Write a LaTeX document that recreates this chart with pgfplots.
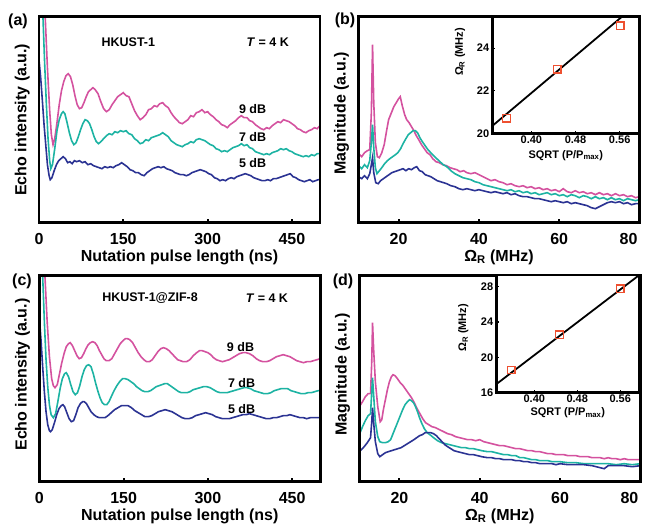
\documentclass[border=0pt]{standalone}
\usepackage{fontspec}
\setmainfont{Liberation Sans}
\usepackage{pgfplots}
\pgfplotsset{compat=1.18}
\definecolor{cmag}{HTML}{D4529F}
\definecolor{cteal}{HTML}{1DB3A3}
\definecolor{cblue}{HTML}{2B3393}
\definecolor{csq}{HTML}{EE5030}
\newcommand{\fL}{\fontsize{16}{19}\selectfont\bfseries}
\newcommand{\fM}{\fontsize{12.5}{15}\selectfont\bfseries}
\newcommand{\fS}{\fontsize{11}{13}\selectfont\bfseries}
\pgfplotsset{
 mainax/.style={scale only axis, width=281pt, height=206pt, ymin=0, ymax=206, ytick=\empty,
  axis on top, tick align=inside, xtick pos=left,
  major tick length=4pt, tick style={line width=2pt,black},
  /pgf/number format/assume math mode=true,
  xticklabel style={font=\fL, anchor=center, yshift=-16pt},
  every axis x label/.style={at={(axis description cs:0.5,0)},anchor=center,yshift=-34.5pt,font=\fL},
  every axis y label/.style={at={(axis description cs:-0.06,0.5)},anchor=center,rotate=90,font=\fL},
  after end axis/.code={\draw[line width=2.8pt] (rel axis cs:0,0) rectangle (rel axis cs:1,1);},
  anchor=south west, no markers, every axis plot/.append style={line width=1.6pt}},
 insetax/.style={scale only axis, anchor=south west, axis background/.style={fill=white},
  tick align=inside, xtick pos=left, ytick pos=left,
  major tick length=2.5pt, tick style={line width=1.2pt,black},
  /pgf/number format/assume math mode=true,
  ticklabel style={font=\fS}, xticklabel style={anchor=center,yshift=-6.5pt},
  after end axis/.code={\draw[line width=2.5pt] (rel axis cs:0,0) rectangle (rel axis cs:1,1);},
  xmin=0.33, xmax=0.595,
  xtick={0.40,0.48,0.56}, xticklabels={0.40,0.48,0.56}}
}
\begin{document}
\begin{tikzpicture}
\useasboundingbox (0,0) rectangle (648pt,526pt);
% (a)
\begin{axis}[mainax, at={(39pt,303.3pt)}, xmin=0, xmax=500, xtick={0,150,300,450},
  xlabel={Nutation pulse length (ns)}, ylabel={Echo intensity (a.u.)}]
\addplot[cmag] coordinates {(0,400)(6,290)(11,206)(15,155)(19,112)(22,88)(25,78)(28,84)(32,100)(36,118)(40,132)(44,141)(48,147)(52,149)(56,146)(60,138)(64,127)(68,118)(72,114)(76,115)(80,120)(84,126)(88,131)(92,133)(96,135)(100,133)(105,129)(110,121)(115,114)(120,111)(125,113)(130,118)(135,122)(140,126)(145,128)(150,130)(155,127)(160,126)(165,119)(170,112)(175,107)(180,103)(185,105)(190,108)(195,113)(200,114)(205,117)(210,116)(215,119)(220,120)(225,117)(230,115)(235,110)(240,106)(245,103)(250,100)(255,99)(260,101)(265,103)(270,107)(275,106)(280,110)(285,111)(290,113)(295,110)(300,111)(305,108)(310,106)(315,103)(320,101)(325,98)(330,97)(335,95)(340,98)(345,100)(350,102)(355,105)(360,107)(365,105)(370,105)(375,102)(380,101)(385,98)(390,96)(395,94)(400,93)(405,95)(410,94)(415,97)(420,99)(425,101)(430,100)(435,103)(440,102)(445,101)(450,99)(455,97)(460,94)(465,93)(470,91)(475,90)(480,92)(485,93)(490,95)(495,94)(500,97)};
\addplot[cteal] coordinates {(0,400)(4,280)(7,206)(10,160)(13,120)(16,85)(19,62)(21,54)(24,58)(28,74)(32,92)(36,103)(40,109)(43,111)(46,109)(50,100)(54,90)(58,82)(62,78)(66,80)(70,86)(74,93)(78,99)(82,103)(86,102)(90,99)(94,93)(98,86)(102,81)(106,79)(110,81)(115,84)(120,87)(125,89)(130,88)(135,91)(140,90)(145,92)(150,91)(155,92)(160,89)(165,88)(170,84)(175,82)(180,79)(185,80)(190,83)(195,82)(200,85)(205,86)(210,87)(215,88)(220,90)(225,88)(230,86)(235,82)(240,80)(245,78)(250,77)(255,76)(260,78)(265,79)(270,81)(275,80)(280,83)(285,84)(290,83)(295,82)(300,80)(305,78)(310,77)(315,74)(320,73)(325,71)(330,72)(335,71)(340,73)(345,75)(350,76)(355,77)(360,79)(365,77)(370,78)(375,75)(380,74)(385,71)(390,70)(395,69)(400,68)(405,69)(410,68)(415,70)(420,71)(425,72)(430,74)(435,73)(440,74)(445,72)(450,71)(455,69)(460,68)(465,67)(470,66)(475,67)(480,66)(485,68)(490,67)(495,69)(500,69)};
\addplot[cblue] coordinates {(0,163)(3,145)(6,122)(9,98)(12,78)(15,58)(18,47)(20,43)(23,45)(27,52)(31,58)(35,62)(39,64)(43,66)(47,64)(51,60)(55,61)(59,59)(63,62)(67,61)(72,62)(77,60)(82,61)(87,58)(92,59)(97,57)(102,56)(107,55)(112,54)(117,56)(122,55)(127,56)(132,55)(137,57)(142,58)(147,60)(152,58)(157,56)(162,53)(167,52)(172,50)(177,50)(182,48)(187,47)(192,50)(197,52)(202,54)(207,55)(212,56)(217,55)(222,56)(227,54)(232,53)(237,52)(242,50)(247,49)(252,48)(257,48)(262,47)(267,48)(272,50)(277,51)(282,52)(287,53)(292,52)(297,51)(302,49)(307,48)(312,45)(317,44)(322,42)(327,43)(332,42)(337,44)(342,45)(347,44)(352,46)(357,47)(362,48)(367,49)(372,48)(377,47)(382,45)(387,44)(392,43)(397,42)(402,42)(407,43)(412,42)(417,44)(422,44)(427,45)(432,46)(437,47)(442,48)(447,49)(452,46)(457,45)(462,43)(467,42)(472,41)(477,42)(482,43)(487,41)(492,42)(497,43)(500,43)};
\node[font=\fM] at (axis cs:159,180) {HKUST-1};
\node[font=\fM] at (axis cs:407,180) {\textit{T} = 4 K};
\node[font=\fM] at (axis cs:380,114) {9 dB};
\node[font=\fM] at (axis cs:380,86) {7 dB};
\node[font=\fM] at (axis cs:380,59.4) {5 dB};
\end{axis}
% (b)
\begin{axis}[mainax, at={(358.5pt,303.3pt)}, xmin=10, xmax=80, xtick={20,40,60,80},
  xticklabels={20,40,60,{\makebox[0pt][r]{80\hspace{2pt}}}},
  xlabel={Ω\textsubscript{R} (MHz)}, ylabel={Magnitude (a.u.)},
  every axis y label/.style={at={(axis description cs:-0.06,0.53)},anchor=center,rotate=90,font=\fL}]
\addplot[cmag] coordinates {(10,69)(10.8,66)(11.5,70)(12.2,72)(12.8,73)(13.2,110)(13.5,178)(13.8,120)(14.2,80)(14.7,66)(15.2,65)(15.8,70)(16.4,78)(17,92)(17.5,103)(18.2,110)(18.8,116)(19.4,120)(20,124)(20.4,126)(20.9,117)(21.5,108)(22,103)(22.6,100)(23.2,96)(23.8,92)(24.4,87)(25,83)(25.7,78)(26.4,74)(27.1,70)(27.8,68)(28.5,64)(29.3,61)(30.1,60)(31,58)(31.9,57)(32.8,55)(33.6,54)(34.5,53)(35.3,51)(36.2,52)(37,50)(38,49)(39,50)(40,48)(41,46)(42,44)(43,42)(44,43)(45,41)(46,40)(47,38)(48,39)(49,37)(50,36)(51,37)(52,35)(53,36)(54,34)(55,35)(56,33)(57,34)(58,32)(59,33)(60,31)(61,34)(62,31)(63,30)(64,32)(65,30)(66,31)(67,29)(68,30)(69,28)(70,30)(71,28)(72,29)(73,27)(74,29)(75,27)(76,28)(77,26)(78,27)(79,25)(80,26)};
\addplot[cteal] coordinates {(10,57)(10.8,54)(11.5,58)(12.2,55)(12.8,62)(13.2,80)(13.5,98)(13.8,75)(14.2,55)(14.6,49)(15.2,52)(15.8,55)(16.5,59)(17.2,62)(17.8,64)(18.5,66)(19.2,68)(19.8,70)(20.5,74)(21.1,79)(21.8,84)(22.4,88)(23,90)(23.6,92)(24.2,92)(24.7,90)(25.3,85)(25.9,81)(26.6,77)(27.3,73)(28,70)(28.7,67)(29.5,64)(30.3,61)(31.1,58)(32,56)(33,52)(34,49)(35,47)(36,45)(37,44)(38,43)(39,41)(40,40)(41,38)(42,37)(43,36)(44,35)(45,34)(46,33)(47,32)(48,33)(49,31)(50,32)(51,30)(52,31)(53,29)(54,30)(55,28)(56,29)(57,30)(58,28)(59,29)(60,27)(61,28)(62,26)(63,28)(64,27)(65,25)(66,27)(67,26)(68,24)(69,26)(70,24)(71,25)(72,23)(73,25)(74,23)(75,24)(76,22)(77,24)(78,23)(79,22)(80,23)};
\addplot[cblue] coordinates {(10,46)(10.8,44)(11.5,47)(12.2,44)(12.8,49)(13.2,58)(13.5,65)(13.8,50)(14.3,40)(14.9,39)(15.5,42)(16.2,44)(16.9,46)(17.6,48)(18.3,50)(19,51)(19.7,52)(20.4,53)(21.1,54)(21.8,52)(22.5,54)(23.2,53)(23.9,55)(24.5,56)(25.2,52)(25.9,51)(26.6,48)(27.3,47)(28,46)(28.8,44)(29.6,42)(30.4,41)(31.2,40)(32,39)(33,37)(34,36)(35,34)(36,33)(37,34)(38,33)(39,32)(40,33)(41,32)(42,31)(43,30)(44,31)(45,30)(46,29)(47,30)(48,28)(49,29)(50,27)(51,26)(52,26)(53,25)(54,24)(55,24)(56,23)(57,22)(58,21)(59,22)(60,21)(61,20)(62,21)(63,19)(64,20)(65,19)(66,18)(67,17)(68,15)(69,14)(70,16)(71,18)(72,20)(73,21)(74,20)(75,21)(76,19)(77,20)(78,18)(79,19)(80,19)};
\end{axis}
% (c)
\begin{axis}[mainax, at={(39.3pt,44.3pt)}, xmin=0, xmax=500, xtick={0,150,300,450},
  xlabel={Nutation pulse length (ns)}, ylabel={Echo intensity (a.u.)},
  every axis y label/.style={at={(axis description cs:-0.06,0.52)},anchor=center,rotate=90,font=\fL}]
\addplot[cmag] coordinates {(0,420)(5,300)(10,206)(14,160)(18,125)(22,103)(25,96)(28,94)(32,97)(36,108)(40,119)(44,128)(48,135)(52,138)(55,139)(59,136)(63,131)(67,126)(71,123)(75,124)(79,128)(83,133)(87,137)(91,139)(95,140)(99,139)(103,136)(107,131)(111,127)(115,123)(119,121)(124,121)(129,123)(134,128)(139,133)(144,138)(149,141)(153,143)(157,143)(161,142)(166,139)(171,134)(176,129)(181,125)(186,122)(191,120)(196,120)(201,122)(206,126)(211,130)(216,133)(221,134)(226,133)(231,131)(236,128)(241,125)(246,122)(251,121)(256,120)(262,120)(268,122)(274,126)(280,129)(285,131)(290,131)(295,130)(300,129)(305,127)(310,124)(315,122)(320,121)(326,120)(332,121)(338,122)(344,124)(350,126)(356,128)(362,129)(368,129)(374,128)(380,126)(386,123)(392,121)(398,120)(404,120)(410,121)(416,123)(422,125)(428,126)(434,127)(440,126)(446,125)(452,123)(458,121)(464,120)(470,119)(476,120)(482,120)(488,121)(494,122)(500,123)};
\addplot[cteal] coordinates {(0,360)(3,270)(6,206)(9,160)(12,122)(15,95)(18,77)(21,67)(25,64)(29,68)(33,80)(37,93)(41,103)(45,108)(48,109)(52,105)(56,97)(60,90)(64,87)(68,89)(72,96)(76,105)(80,112)(84,116)(88,117)(92,115)(96,108)(100,99)(104,91)(108,84)(112,79)(116,77)(120,77)(124,80)(128,85)(133,91)(138,96)(143,100)(148,103)(153,103)(158,102)(163,100)(168,98)(173,95)(178,93)(183,91)(188,90)(193,90)(198,91)(203,93)(208,95)(213,96)(218,97)(223,98)(228,98)(233,96)(238,94)(243,92)(248,90)(253,89)(258,89)(263,89)(268,90)(274,92)(280,93)(286,94)(292,95)(298,95)(304,94)(310,92)(316,90)(322,89)(328,89)(334,89)(340,90)(346,91)(352,92)(358,93)(364,94)(370,94)(376,93)(382,91)(388,90)(394,89)(400,88)(406,88)(412,89)(418,91)(424,92)(430,93)(436,93)(442,93)(448,91)(454,90)(460,89)(466,88)(472,88)(478,89)(484,89)(490,90)(496,91)(500,91)};
\addplot[cblue] coordinates {(0,165)(3,142)(6,115)(9,90)(12,70)(15,57)(18,51)(20,50)(23,52)(27,59)(31,67)(35,73)(39,76)(42,77)(45,75)(49,69)(53,63)(57,60)(61,61)(65,67)(69,74)(73,78)(77,80)(80,80)(84,78)(88,74)(92,70)(97,67)(102,65)(107,64)(112,64)(117,64)(122,66)(128,69)(134,72)(140,74)(146,76)(152,76)(158,76)(164,74)(170,71)(176,69)(182,67)(188,65)(194,65)(200,66)(206,68)(212,70)(218,71)(224,72)(230,71)(236,70)(242,68)(248,66)(254,64)(260,63)(266,63)(272,64)(278,66)(284,67)(290,68)(296,69)(302,68)(308,67)(314,65)(320,64)(326,63)(332,63)(338,63)(344,64)(350,65)(356,66)(362,67)(368,67)(374,68)(380,67)(386,66)(392,65)(398,64)(404,63)(410,63)(416,64)(422,64)(428,65)(434,66)(440,66)(446,67)(452,66)(458,65)(464,64)(470,64)(476,63)(482,64)(488,64)(494,64)(500,64)};
\node[font=\fM] at (axis cs:197,183.4) {HKUST-1@ZIF-8};
\node[font=\fM] at (axis cs:405,183.4) {\textit{T} = 4 K};
\node[font=\fM] at (axis cs:358,134.4) {9 dB};
\node[font=\fM] at (axis cs:360,99) {7 dB};
\node[font=\fM] at (axis cs:360,72.7) {5 dB};
\end{axis}
% (d)
\begin{axis}[mainax, at={(359.3pt,44.3pt)}, xmin=10, xmax=80, xtick={20,40,60,80},
  xticklabels={20,40,60,{\makebox[0pt][r]{80\hspace{2pt}}}},
  xlabel={Ω\textsubscript{R} (MHz)}, ylabel={Magnitude (a.u.)},
  every axis y label/.style={at={(axis description cs:-0.06,0.52)},anchor=center,rotate=90,font=\fL}]
\addplot[cmag] coordinates {(10,75)(10.8,80)(11.5,85)(12.2,88)(12.8,88)(13.1,120)(13.3,159)(13.6,130)(14,100)(14.6,75)(15.2,60)(15.6,62)(16,72)(16.5,82)(17,92)(17.5,100)(18,105)(18.4,107)(18.9,106)(19.5,103)(20.2,99)(20.9,96)(21.6,92)(22.3,88)(23,84)(23.7,79)(24.4,73)(25.1,68)(25.8,63)(26.5,59)(27.3,57)(28.1,55)(29,54)(30,52)(31,50)(32,48)(33,47)(34,45)(35,44)(36,43)(37,42)(38,42)(39,41)(40,42)(41,40)(42,39)(43,38)(44,37)(45,36)(46,36)(47,35)(48,34)(49,33)(50,33)(51,32)(52,31)(53,31)(54,30)(55,30)(56,29)(57,28)(58,28)(59,27)(60,27)(61,27)(62,26)(63,26)(64,26)(65,25)(66,25)(67,25)(68,24)(69,24)(70,24)(71,23)(72,24)(73,23)(74,23)(75,22)(76,23)(77,22)(78,22)(79,22)(80,22)};
\addplot[cteal] coordinates {(10,47)(10.8,55)(11.5,61)(12.2,66)(12.8,68)(13.1,90)(13.3,104)(13.6,85)(14,60)(14.6,45)(15.1,40)(15.8,39)(16.5,39)(17.2,40)(17.8,42)(18.4,48)(19,54)(19.6,60)(20.2,66)(20.8,72)(21.4,77)(22,80)(22.5,82)(23,81)(23.5,79)(24,75)(24.5,70)(25,64)(25.6,58)(26.2,53)(26.9,49)(27.6,47)(28.5,44)(29.5,41)(30.5,39)(31.5,38)(32.5,37)(33.5,36)(34.5,35)(35.5,34)(36.5,34)(37.5,33)(38.5,33)(39.5,32)(40.5,31)(42,30)(43,30)(44,29)(45,28)(46,27)(47,27)(48,26)(49,26)(50,24)(51,24)(52,23)(53,22)(54,22)(55,21)(56,21)(57,21)(58,20)(59,20)(60,20)(62,19)(64,19)(66,18)(68,18)(70,18)(72,18)(74,17)(76,18)(78,17)(80,18)};
\addplot[cblue] coordinates {(10,30)(11,34)(12,39)(12.8,44)(13.1,60)(13.3,74)(13.6,58)(14,40)(14.6,28)(15.1,25)(15.8,27)(16.5,29)(17.2,30)(18,31)(18.8,32)(19.6,33)(20.4,34)(21.2,36)(22,38)(22.8,40)(23.6,42)(24.3,44)(25,46)(25.7,47)(26.4,49)(27.1,49)(27.8,49)(28.5,48)(29.2,46)(29.9,43)(30.6,40)(31.3,37)(32,35)(32.8,33)(33.6,31)(34.5,30)(35.5,29)(36.5,28)(37.5,27)(38.5,27)(39.5,26)(40.5,25)(42,24)(43,24)(44,23)(45,23)(46,22)(47,22)(48,22)(49,21)(50,21)(51,20)(52,20)(53,19)(54,19)(55,18)(56,18)(57,18)(58,18)(59,17)(60,18)(62,17)(64,17)(66,17)(68,16)(70,14)(71,13)(72,16)(74,16)(76,16)(78,15)(80,16)};
\end{axis}
% inset (b)
\begin{axis}[insetax, at={(492.7pt,392.5pt)}, width=146.3pt, height=116.5pt,
  ymin=20, ymax=25.46, ytick={20,22,24},
  xlabel={SQRT (P/P\textsubscript{max})}, ylabel={Ω\textsubscript{R} (MHz)},
  every axis x label/.style={at={(axis description cs:0.5,0)},anchor=center,yshift=-22pt,font=\fS},
  every axis y label/.style={at={(axis description cs:-0.223,0.70)},anchor=center,rotate=90,font=\fS}]
\addplot[black, line width=1.8pt] coordinates {(0.33,20.37)(0.58,25.82)};
\addplot[only marks, mark=square, mark size=3.8pt, mark options={draw=csq, line width=1.2pt}] coordinates {(0.355,20.72)(0.447,23.01)(0.561,25.05)};
\end{axis}
% inset (d)
\begin{axis}[insetax, at={(496.7pt,133.5pt)}, width=142.3pt, height=117.5pt,
  ymin=16, ymax=29.33, ytick={16,20,24,28},
  xlabel={SQRT (P/P\textsubscript{max})}, ylabel={Ω\textsubscript{R} (MHz)},
  every axis x label/.style={at={(axis description cs:0.5,0)},anchor=center,yshift=-20.5pt,font=\fS},
  every axis y label/.style={at={(axis description cs:-0.235,0.55)},anchor=center,rotate=90,font=\fS}]
\addplot[black, line width=1.8pt] coordinates {(0.33,16.98)(0.595,29.3)};
\addplot[only marks, mark=square, mark size=3.8pt, mark options={draw=csq, line width=1.2pt}] coordinates {(0.357,18.55)(0.447,22.55)(0.56,27.77)};
\end{axis}
\node[font=\fL] at (18pt,505pt) {(a)};
\node[font=\fL] at (345pt,506pt) {(b)};
\node[font=\fL] at (22pt,245pt) {(c)};
\node[font=\fL] at (343pt,245pt) {(d)};
\end{tikzpicture}
\end{document}
